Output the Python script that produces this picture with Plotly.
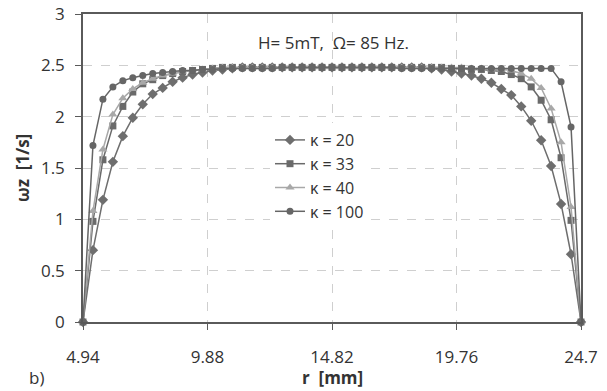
import numpy as np
import plotly.graph_objects as go

# Radial positions (51 points from 4.94 to 24.7 mm)
r_mm = [round(4.94 + i * 0.3952, 4) for i in range(51)]

kappa_20 = [0, 0.70, 1.19, 1.56, 1.81, 1.99, 2.12, 2.22, 2.28, 2.34, 2.38, 2.41, 2.43, 2.45, 2.46, 2.47,
            2.48, 2.48, 2.48, 2.48, 2.48, 2.48, 2.48, 2.48, 2.48, 2.48, 2.48, 2.48, 2.48, 2.48, 2.48, 2.48,
            2.48, 2.48, 2.48, 2.47, 2.46, 2.44, 2.42, 2.40, 2.37, 2.33, 2.27, 2.21, 2.10, 1.96, 1.77, 1.52,
            1.15, 0.66, 0]
kappa_33 = [0, 0.98, 1.58, 1.91, 2.10, 2.24, 2.32, 2.36, 2.40, 2.42, 2.44, 2.45, 2.46, 2.47,
            2.48, 2.48, 2.48, 2.48, 2.48, 2.48, 2.48, 2.48, 2.48, 2.48, 2.48, 2.48, 2.48, 2.48, 2.48, 2.48,
            2.48, 2.48, 2.48, 2.48, 2.48, 2.48, 2.48, 2.47, 2.47, 2.46, 2.46, 2.45, 2.44, 2.41, 2.37, 2.29,
            2.16, 1.97, 1.60, 0.99, 0]
kappa_40 = [0, 1.08, 1.68, 2.02, 2.18, 2.27, 2.33, 2.37, 2.40, 2.42, 2.44, 2.45, 2.46, 2.47,
            2.48, 2.48, 2.48, 2.48, 2.48, 2.48, 2.48, 2.48, 2.48, 2.48, 2.48, 2.48, 2.48, 2.48, 2.48, 2.48,
            2.48, 2.48, 2.48, 2.48, 2.48, 2.48, 2.48, 2.48, 2.48, 2.47, 2.47, 2.46, 2.46, 2.45, 2.42, 2.37,
            2.28, 2.08, 1.75, 1.12, 0]
kappa_100 = [0, 1.72, 2.17, 2.29, 2.35, 2.38, 2.40, 2.42, 2.43, 2.44, 2.45, 2.45, 2.46, 2.46, 2.47,
             2.47, 2.47, 2.47, 2.47, 2.47, 2.48, 2.48, 2.48, 2.48, 2.48, 2.48, 2.48, 2.48, 2.48, 2.48,
             2.48, 2.48, 2.47, 2.47, 2.47, 2.47, 2.47, 2.47, 2.47, 2.47, 2.47, 2.47, 2.47, 2.47, 2.47,
             2.47, 2.47, 2.47, 2.34, 1.90, 0]

series_names = ["κ = 20", "κ = 33", "κ = 40", "κ = 100"]
x_ticks = [4.94, 9.88, 14.82, 19.76, 24.7]
x_tick_labels = ["4.94", "9.88", "14.82", "19.76", "24.7"]
y_ticks = [0, 0.5, 1, 1.5, 2, 2.5, 3]
y_tick_labels = ["0", "0.5", "1", "1.5", "2", "2.5", "3"]

FONT = "Open Sans"
FS = 17
TXT = "#333333"
styles = [
    dict(color="#6e6e6e", symbol="diamond", size=8),
    dict(color="#6a6a6a", symbol="square", size=7),
    dict(color="#a8a8a8", symbol="triangle-up", size=8),
    dict(color="#666666", symbol="circle", size=7),
]

fig = go.Figure()
for name, ys, st in zip(series_names, [kappa_20, kappa_33, kappa_40, kappa_100], styles):
    fig.add_trace(go.Scatter(
        x=r_mm, y=ys, name=name, mode="lines+markers",
        line=dict(color=st["color"], width=1.5),
        marker=dict(color=st["color"], symbol=st["symbol"], size=st["size"], line=dict(width=0)),
        cliponaxis=False,
    ))

W, H = 607, 391
L, R, T, B = 83, 26, 14, 69
pw = W - L - R
ph = H - T - B

def px_x(p):
    return (p - L) / pw

def px_y(p):
    return (H - B - p) / ph

axis_common = dict(
    showline=True, linecolor="#5a5a5a", linewidth=1.5, mirror=True,
    ticks="outside", ticklen=6, tickcolor="#5a5a5a", tickwidth=1.2,
    showgrid=True, gridcolor="#cfcfcf", griddash="dash", gridwidth=1,
    zeroline=False, automargin=False,
    tickfont=dict(family=FONT, size=FS, color=TXT),
)

def note(text, xp, yp, **kw):
    return dict(text=text, x=px_x(xp), y=px_y(yp), xref="paper", yref="paper",
                xanchor="center", yanchor="middle", showarrow=False,
                font=dict(family=FONT, size=FS, color=TXT), **kw)

fig.update_layout(
    width=W, height=H,
    margin=dict(l=L, r=R, t=T, b=B, autoexpand=False),
    paper_bgcolor="white", plot_bgcolor="white",
    xaxis=dict(range=[4.94, 24.7], tickvals=x_ticks, ticktext=x_tick_labels,
               ticklabelstandoff=13, **axis_common),
    yaxis=dict(range=[0, 3], tickvals=y_ticks, ticktext=y_tick_labels,
               ticklabelstandoff=7, **axis_common),
    legend=dict(x=px_x(270), y=px_y(123), xanchor="left", yanchor="top",
                bgcolor="white", borderwidth=0,
                font=dict(family=FONT, size=16, color=TXT),
                itemwidth=30, tracegroupgap=0),
    showlegend=True,
    annotations=[
        note("H= 5mT,  Ω= 85 Hz.", 333, 43),
        note("<b>ωz  [1/s]</b>", 22, 168, textangle=-90),
        note("<b>r  [mm]</b>", 332, 377),
        note("b)", 36, 377),
    ],
)

fig.write_html(
    "out.html",
    config={"displayModeBar": False},
    post_script="document.body.style.margin='0';document.body.style.overflow='hidden';",
)
